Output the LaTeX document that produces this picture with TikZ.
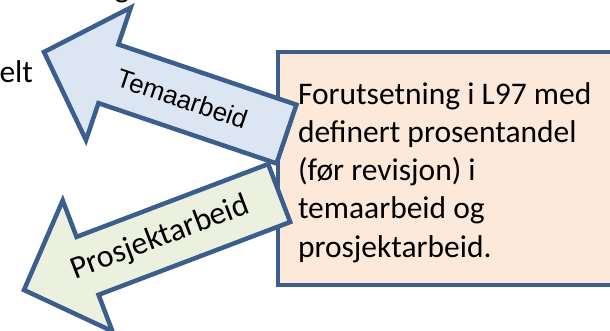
\documentclass[tikz,border=0pt]{standalone}
\usepackage{fontspec}
\setmainfont{Carlito}
\newfontfamily\arialfont{Liberation Sans}
\usetikzlibrary{positioning}
\definecolor{edgeblue}{HTML}{3B5E8C}
\definecolor{temafill}{HTML}{DCE6F2}
\definecolor{prosjektfill}{HTML}{EBF1DE}
\definecolor{notefill}{HTML}{FDE9D9}
\newcommand\BlockArrow[4]{% fill, tip, angle, length
  \begin{scope}[shift={(#2)},rotate=#3]
    \filldraw[arrow edge,fill=#1] (0,0) -- (\headL,\headW) -- (\headL,\shaftW)
      -- (#4,\shaftW) -- (#4,-\shaftW) -- (\headL,-\shaftW) -- (\headL,-\headW) -- cycle;
  \end{scope}
}
\tikzset{%
  arrow edge/.style={draw=edgeblue,line width=4.5pt,line join=miter},
  slide text/.style={inner sep=0pt,outer sep=0pt,font=\fontsize{31.5}{38.3}\selectfont}
}

\begin{document}
\begin{tikzpicture}[x=1pt,y=1pt]
	%% some definitions
	\def\headL{68} % head length
	\def\headW{70} % half head width
	\def\shaftW{31} % half shaft width
	\def\angTema{-18.7}
	\def\angProsjekt{20.8}
	
	\useasboundingbox (0,0) rectangle (610,331);
	\clip (0,0) rectangle (610,331);
	
	\coordinate (temaTip) at (44,279);
	\coordinate (prosjektTip) at (24,41);
	
	%% text cut off at the slide edge
	\node[slide text,anchor=base east] (elt) at (33,248) {elt};
	\node[slide text,anchor=base] (g) at (122,333.6) {g};
	
	%% note box
	\filldraw[arrow edge,fill=notefill] (278,279) rectangle (630,46);
	\node[slide text,anchor=base west,align=left] (note) at (298,73.7)
	  {Forutsetning i L97 med\\definert prosentandel\\(før revisjon) i\\temaarbeid og\\prosjektarbeid.};
	
	%% arrows
	\BlockArrow{temafill}{temaTip}{\angTema}{256}
	\BlockArrow{prosjektfill}{prosjektTip}{\angProsjekt}{273}
	
	\path (temaTip) ++(\angTema:146) node[rotate=\angTema,inner sep=0pt,font=\arialfont\fontsize{26}{30}\selectfont] (tema) {Temaarbeid};
	\path (prosjektTip) ++(\angProsjekt:146) node[rotate=\angProsjekt,inner sep=0pt,font=\fontsize{32}{36}\selectfont] (prosjekt) {Prosjektarbeid};
\end{tikzpicture}
\end{document}
